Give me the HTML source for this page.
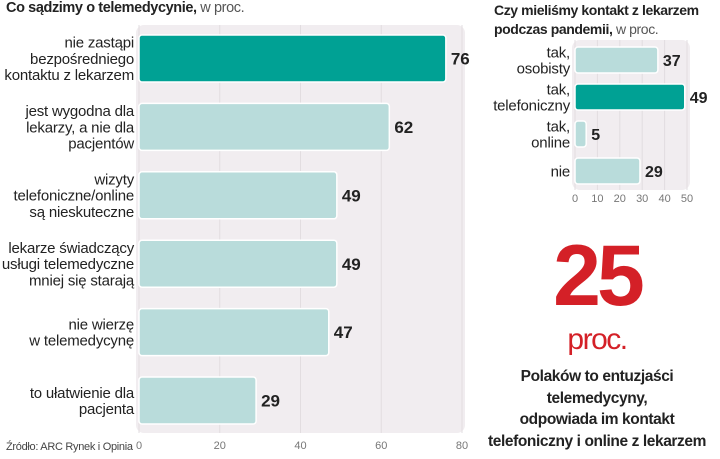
<!DOCTYPE html>
<html><head><meta charset="utf-8"><style>
body{margin:0;width:720px;height:459px;background:#fff;font-family:"Liberation Sans",sans-serif;overflow:hidden;position:relative}
.t{position:absolute;color:#222}
</style></head><body>
<div class="t" style="left:6px;top:0px;font-size:14.5px;font-weight:bold;letter-spacing:-0.4px">Co sądzimy o telemedycynie, <span style="font-weight:normal;color:#555">w proc.</span></div>
<div class="t" style="left:494px;top:1px;font-size:14px;font-weight:bold;line-height:19px;letter-spacing:-0.4px">Czy mieliśmy kontakt z lekarzem<br>podczas pandemii, <span style="font-weight:normal;color:#555">w proc.</span></div>
<svg id="s" width="720" height="459" style="position:absolute;left:0;top:0"></svg>
<div class="t" style="left:497px;top:228px;width:200px;text-align:center;font-size:86px;font-weight:bold;color:#d42027;letter-spacing:-4px;line-height:96px">25</div>
<div class="t" style="left:497px;top:323px;width:200px;text-align:center;font-size:30px;color:#d42027;letter-spacing:-1.5px">proc.</div>
<div class="t" style="left:467px;top:366px;width:260px;text-align:center;font-size:15.5px;font-weight:bold;line-height:21.5px;letter-spacing:-0.4px">Polaków to entuzjaści<br>telemedycyny,<br>odpowiada im kontakt<br>telefoniczny i online z lekarzem</div>
<div class="t" style="left:6px;top:441px;font-size:11px;color:#444;letter-spacing:-0.3px">Źródło: ARC Rynek i Opinia</div>
<script>
const leftCats=[["nie zastąpi","bezpośredniego","kontaktu z lekarzem"],["jest wygodna dla","lekarzy, a nie dla","pacjentów"],["wizyty","telefoniczne/online","są nieskuteczne"],["lekarze świadczący","usługi telemedyczne","mniej się starają"],["nie wierzę","w telemedycynę"],["to ułatwienie dla","pacjenta"]];
const leftVals=[76,62,49,49,47,29];
const leftTicks=[0,20,40,60,80];
const rightCats=[["tak,","osobisty"],["tak,","telefoniczny"],["tak,","online"],["nie"]];
const rightVals=[37,49,5,29];
const rightTicks=[0,10,20,30,40,50];
const NS="http://www.w3.org/2000/svg",s=document.getElementById('s');
function el(t,a,p){const e=document.createElementNS(NS,t);for(const k in a)e.setAttribute(k,a[k]);(p||s).appendChild(e);return e;}
function chart(o){
 const x=v=>o.x0+v*(o.x1-o.x0)/o.max;
 const bg=el('rect',{x:o.x0-3,y:o.top,width:o.x1-o.x0+6,height:o.bot-o.top,rx:8,fill:'#f1edf0'});
 
 o.ticks.forEach(t=>{const l=el('line',{x1:x(t),x2:x(t),y1:o.top,y2:o.bot,stroke:'#e2dde0'});
  
  const tx=el('text',{x:x(t),y:o.tickY,'text-anchor':'middle','font-size':o.tfs,fill:'#777'});tx.textContent=t;
  });
 o.vals.forEach((v,i)=>{const y=o.y0+i*o.step;
  const r=el('rect',{x:x(0),y:y,width:x(v)-x(0),height:o.h,rx:3,fill:i==o.hi?'#00a194':'#b9dcdb',stroke:'#fff','stroke-width':1.5});
  
  const vt=el('text',{x:x(v)+5,y:y+o.h/2+o.vfs*0.36,'font-size':o.vfs,'font-weight':'bold',fill:'#222'});vt.textContent=v;
  
  const L=o.cats[i],lh=o.lfs*1.08,sy=y+o.h/2-(L.length-1)*lh/2+o.lfs*0.36;
  L.forEach((s2,j)=>{const c=el('text',{x:o.x0-5,y:sy+j*lh,'text-anchor':'end','font-size':o.lfs,fill:'#222','letter-spacing':'-0.2'});c.textContent=s2;
   });});
}
chart({n:'left',x0:139,x1:462,max:80,top:25,bot:433,ticks:leftTicks,tickY:449,tfs:11,vals:leftVals,cats:leftCats,y0:35,step:68.4,h:47,hi:0,vfs:17,lfs:15});
chart({n:'right',x0:575,x1:687,max:50,top:40,bot:190,ticks:rightTicks,tickY:202,tfs:11,vals:rightVals,cats:rightCats,y0:47,step:37,h:26,hi:1,vfs:16,lfs:15});
</script>
</body></html>
